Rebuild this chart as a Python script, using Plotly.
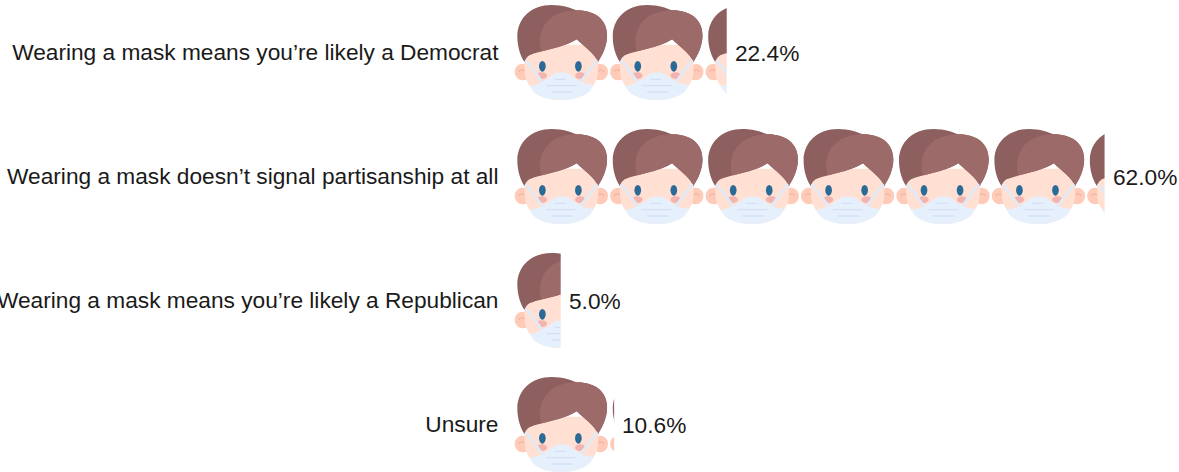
import base64
import math
import plotly.graph_objects as go

categories = [
    "Wearing a mask means you’re likely a Democrat",
    "Wearing a mask doesn’t signal partisanship at all",
    "Wearing a mask means you’re likely a Republican",
    "Unsure",
]
values = [22.4, 62.0, 5.0, 10.6]
labels = ["22.4%", "62.0%", "5.0%", "10.6%"]
UNIT = 10.0  # percent per icon

ICON = """
<defs><filter id="b" filterUnits="userSpaceOnUse" x="-100" y="-100" width="600" height="600"><feGaussianBlur stdDeviation="1"/></filter></defs>
<g filter="url(#b)">
<ellipse cx="38" cy="222" rx="24" ry="25" fill="#FFCBB9"/>
<ellipse cx="270" cy="222" rx="24" ry="25" fill="#FFCBB9"/>
<path d="M26 222c4-9 14-9 20 0M282 222c-4-9-14-9-20 0" fill="none" stroke="#F3AE9C" stroke-width="3"/>
<path d="M42 140 L266 140 L264 225 C254 285 205 306 154 306 C103 306 54 285 44 225 Z" fill="#FFE0D3"/>
<path d="M22 115 C22 60 65 21 125 21 C160 21 180 30 200 37 C255 37 291 65 291 112 C291 145 277 170 264 192 C254 168 225 148 200 124 C160 150 90 158 58 172 C52 176 47 182 43 192 C30 172 22 145 22 115 Z" fill="#8D5F5F"/>
<path d="M90 132 C90 80 125 38 200 37 C255 37 291 65 291 112 C291 145 277 170 264 192 C254 168 225 148 200 124 C170 144 125 152 95 160 C91 150 90 142 90 132 Z" fill="#9D6B6B"/>
<ellipse cx="97" cy="205" rx="10" ry="16" fill="#2C6A96"/>
<ellipse cx="205" cy="205" rx="10" ry="16" fill="#2C6A96"/>
<ellipse cx="95" cy="233" rx="16" ry="10" fill="#F3B3AF"/>
<ellipse cx="211" cy="233" rx="16" ry="10" fill="#F3B3AF"/>
<path d="M47 186 L100 256 M261 186 L208 256" stroke="#E1EAF7" stroke-width="8" fill="none"/>
<path d="M60 262 C85 262 108 246 128 230 C145 220 165 220 182 230 C200 246 225 260 248 260 C248 285 205 306 154 306 C100 306 66 290 60 262 Z" fill="#E6F0FC"/>
<path d="M135 244 H168 M108 263 H200 M125 282 H188" stroke="#D2E2F4" stroke-width="4" fill="none"/>
</g>
"""


def icon_uri(fraction):
    w = 286 * fraction
    svg = (
        f'<svg xmlns="http://www.w3.org/2000/svg" width="{w:.2f}" height="285" '
        f'viewBox="9 21 {w:.2f} 285" preserveAspectRatio="none">{ICON}</svg>'
    )
    return "data:image/svg+xml;base64," + base64.b64encode(svg.encode()).decode()


fig = go.Figure(
    go.Bar(
        x=values,
        y=categories,
        orientation="h",
        marker=dict(color="rgba(0,0,0,0)", line=dict(width=0)),
        hoverinfo="skip",
    )
)

images = []
for cat, val in zip(categories, values):
    n = math.ceil(val / UNIT)
    for i in range(n):
        frac = min(1.0, val / UNIT - i)
        images.append(
            dict(
                source=icon_uri(frac),
                xref="x",
                yref="y",
                x=i * UNIT,
                y=cat,
                sizex=frac * UNIT,
                sizey=0.766,
                xanchor="left",
                yanchor="middle",
                sizing="stretch",
                layer="above",
            )
        )

annotations = [
    dict(
        x=v,
        y=c,
        text=t,
        xref="x",
        yref="y",
        xanchor="left",
        yanchor="middle",
        xshift=6,
        yshift=0,
        showarrow=False,
        font=dict(family="Liberation Sans, Arial, sans-serif", size=22.7, color="#1a1a1a"),
    )
    for c, v, t in zip(categories, values, labels)
]

fig.update_layout(
    width=1179,
    height=472,
    margin=dict(l=513, r=0, t=0, b=0),
    paper_bgcolor="white",
    plot_bgcolor="white",
    showlegend=False,
    images=images,
    annotations=annotations,
    font=dict(family="Liberation Sans, Arial, sans-serif", size=22.7, color="#1a1a1a"),
    xaxis=dict(range=[0, 69.8], visible=False, fixedrange=True),
    yaxis=dict(
        range=[3.383, -0.4235],
        showgrid=False,
        zeroline=False,
        showline=False,
        ticks="outside",
        ticklen=9,
        tickcolor="rgba(0,0,0,0)",
        automargin=False,
        fixedrange=True,
        tickfont=dict(size=22.7),
    ),
)

fig.write_html(
    "out.html",
    config=dict(displayModeBar=False),
    post_script="document.body.style.margin='0';document.documentElement.style.overflow='hidden';",
)
